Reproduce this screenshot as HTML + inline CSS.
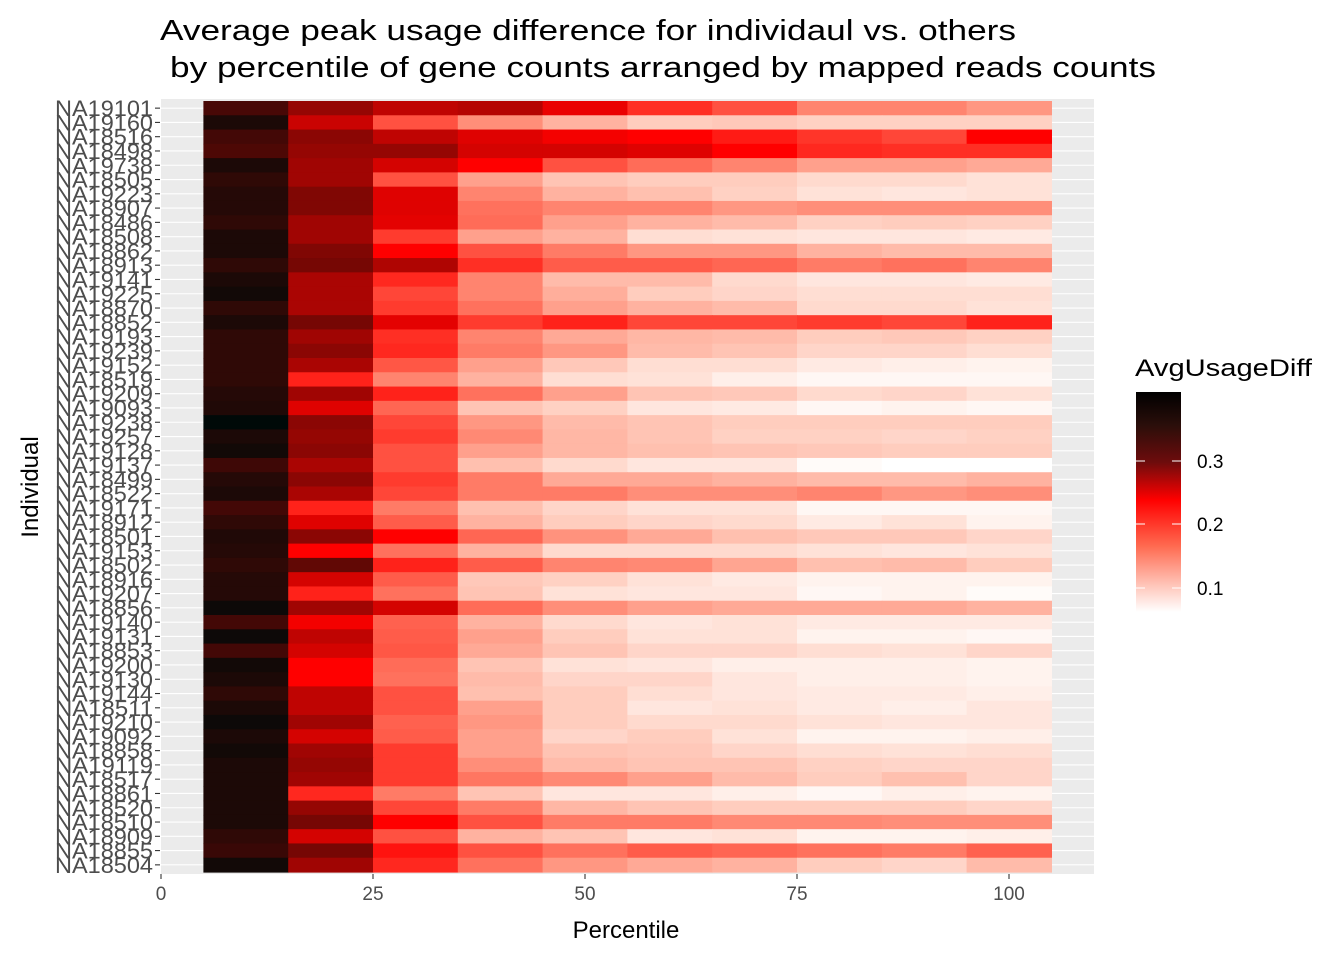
<!DOCTYPE html>
<html><head><meta charset="utf-8"><style>
body{margin:0;background:#fff;}
svg{display:block;font-family:"Liberation Sans",Arial,sans-serif;}
</style></head><body>
<svg id="s" width="1344" height="960" viewBox="0 0 1344 960" xmlns="http://www.w3.org/2000/svg">
<defs>
<linearGradient id="lg" x1="0" y1="0" x2="0" y2="1">
<stop offset="0" stop-color="#000000"/>
<stop offset="0.15" stop-color="#2a0e0a"/>
<stop offset="0.32" stop-color="#6e0c0c"/>
<stop offset="0.49" stop-color="#ff0000"/>
<stop offset="0.7" stop-color="#ff6a50"/>
<stop offset="0.88" stop-color="#ffc6ba"/>
<stop offset="1" stop-color="#ffffff"/>
</linearGradient>
</defs>
<text x="160" y="40" font-size="29" fill="#000" textLength="856" lengthAdjust="spacingAndGlyphs">Average peak usage difference for individaul vs. others</text>
<text x="170" y="77" font-size="29" fill="#000" textLength="986" lengthAdjust="spacingAndGlyphs">by percentile of gene counts arranged by mapped reads counts</text>
<rect x="161" y="99" width="933" height="775" fill="#ebebeb"/>
<g id="grid"></g>
<g id="tiles"></g>
<g id="labels" font-size="22" fill="#4d4d4d" text-anchor="end"></g>
<g id="xt" font-size="19" fill="#4d4d4d" text-anchor="middle"></g>
<text x="626" y="938" font-size="24" text-anchor="middle" fill="#000">Percentile</text>
<text transform="translate(38,487) rotate(-90)" font-size="24" text-anchor="middle" fill="#000">Individual</text>
<text x="1135" y="376" font-size="24" fill="#000" textLength="177" lengthAdjust="spacingAndGlyphs">AvgUsageDiff</text>
<rect x="1136" y="392" width="45" height="220" fill="url(#lg)"/>
<g stroke="#fff" stroke-width="1">
<line x1="1136" y1="461" x2="1145" y2="461"/><line x1="1172" y1="461" x2="1181" y2="461"/>
<line x1="1136" y1="524" x2="1145" y2="524"/><line x1="1172" y1="524" x2="1181" y2="524"/>
<line x1="1136" y1="588" x2="1145" y2="588"/><line x1="1172" y1="588" x2="1181" y2="588"/>
</g>
<g font-size="19" fill="#000">
<text x="1197" y="468">0.3</text><text x="1197" y="531">0.2</text><text x="1197" y="595">0.1</text>
</g>
</svg>
<script>
(function(){
var names="NA19101 NA19160 NA18516 NA18498 NA19738 NA18505 NA19223 NA18907 NA18486 NA18508 NA18862 NA18913 NA19141 NA19225 NA18870 NA18852 NA19193 NA19239 NA19152 NA18519 NA19209 NA19093 NA19238 NA19257 NA19128 NA19137 NA18499 NA18522 NA19171 NA18912 NA18501 NA19153 NA18502 NA18916 NA19207 NA18856 NA19140 NA19131 NA18853 NA19200 NA19130 NA19144 NA18511 NA19210 NA19092 NA18858 NA19119 NA18517 NA18861 NA18520 NA18510 NA18909 NA18855 NA18504".split(" ");
var d=[
[85,70,62,64,54,44,38,28,28,24],[94,60,38,26,18,12,13,11,11,11],[86,72,62,56,52,50,47,43,40,50],[84,70,70,58,58,56,50,45,44,44],
[94,68,58,50,38,33,28,22,22,20],[90,68,38,22,14,12,12,9,9,7],[92,74,56,28,18,15,11,7,6,7],[92,74,56,32,28,28,24,26,26,26],
[90,68,55,33,22,18,16,11,12,11],[94,68,42,22,18,8,7,6,6,5],[94,74,50,38,30,24,24,18,16,16],[90,76,65,44,36,36,34,30,32,28],
[94,66,45,28,16,16,9,6,6,5],[96,66,40,28,19,12,10,8,8,8],[90,66,42,32,22,18,16,9,9,7],[94,76,55,42,46,40,40,42,40,46],
[90,68,44,28,20,17,16,12,13,11],[90,72,45,30,24,16,14,10,10,8],[90,66,37,22,13,8,8,5,4,3],[90,46,28,18,8,7,4,2,2,2],
[92,68,46,32,22,14,13,9,10,7],[93,56,34,14,11,6,5,2,3,2],[100,72,40,24,16,14,12,12,12,12],[94,70,42,27,17,14,11,11,10,11],
[96,72,38,22,17,15,14,13,12,12],[87,66,38,15,9,6,6,1,0,0],[92,72,42,30,20,20,18,16,16,18],[94,66,40,30,30,26,26,28,24,26],
[86,46,30,15,10,7,7,2,2,2],[90,56,36,18,12,10,9,5,7,3],[93,72,50,34,25,20,15,13,13,10],[92,50,32,18,9,9,9,7,6,7],
[90,80,46,36,28,27,21,15,16,12],[92,58,36,13,11,7,5,3,3,3],[92,46,32,14,7,6,6,2,3,1],[97,68,58,33,26,22,20,20,20,18],
[86,52,35,18,9,6,7,5,5,5],[97,62,36,22,12,7,7,3,3,2],[86,58,37,20,14,10,10,8,7,10],[96,50,33,14,7,6,4,4,4,3],
[94,50,32,16,10,10,6,4,4,3],[90,62,38,15,12,8,6,5,5,4],[94,62,38,22,12,6,7,5,4,6],[97,68,35,24,12,9,9,7,6,6],
[94,58,36,22,10,12,7,3,3,4],[96,68,42,22,14,13,10,8,7,8],[94,70,42,26,16,14,14,11,10,10],[94,68,42,31,27,22,16,12,15,10],
[94,45,30,14,6,6,4,2,4,3],[94,70,40,30,17,14,12,12,12,10],[94,76,50,38,30,30,27,27,26,26],[90,58,38,18,14,6,7,3,3,4],
[88,76,48,38,32,36,34,32,30,35],[96,68,45,32,24,20,18,12,10,16]];
function col(v){var t=v/100,r,g,b,s;
 if(t<=0.5){s=t/0.5;g=255*Math.pow(1-s,0.8);b=g*(1-0.15*s)-10*s*(1-s)*4;if(b<0)b=0;r=255;}
 else{s=(t-0.5)/0.5;r=255*Math.pow(1-s,1.05);g=18*s*(1-s*0.5);b=8*s;}
 return "rgb("+Math.round(r)+","+Math.round(g)+","+Math.round(b)+")";}
var NS="http://www.w3.org/2000/svg";
function el(p,tag,a,txt){var e=document.createElementNS(NS,tag);for(var k in a)e.setAttribute(k,a[k]);if(txt)e.textContent=txt;document.getElementById(p).appendChild(e);}
var x0=161,u=8.48,y0=101,rh=(872-101)/54;
for(var i=0;i<54;i++){var yc=y0+rh*(i+0.5);
 el("grid","line",{x1:161,x2:1094,y1:yc,y2:yc,stroke:"#fff","stroke-width":1.1});
 el("labels","text",{x:153,y:yc+8,textLength:98,lengthAdjust:"spacingAndGlyphs"},names[i]);
 el("labels","line",{x1:155,x2:160,y1:yc,y2:yc,stroke:"#333","stroke-width":1.1});
 for(var j=0;j<10;j++){var xa=x0+u*(5+10*j);
  el("tiles","rect",{x:xa,y:y0+rh*i,width:u*10+0.6,height:rh+0.6,fill:col(d[i][j])});}}
[0,25,50,75,100].forEach(function(v){var x=x0+u*v;
 el("xt","line",{x1:x,x2:x,y1:874,y2:879,stroke:"#333","stroke-width":1.1});
 el("xt","text",{x:x,y:900},String(v));});
})();
</script>
</body></html>
